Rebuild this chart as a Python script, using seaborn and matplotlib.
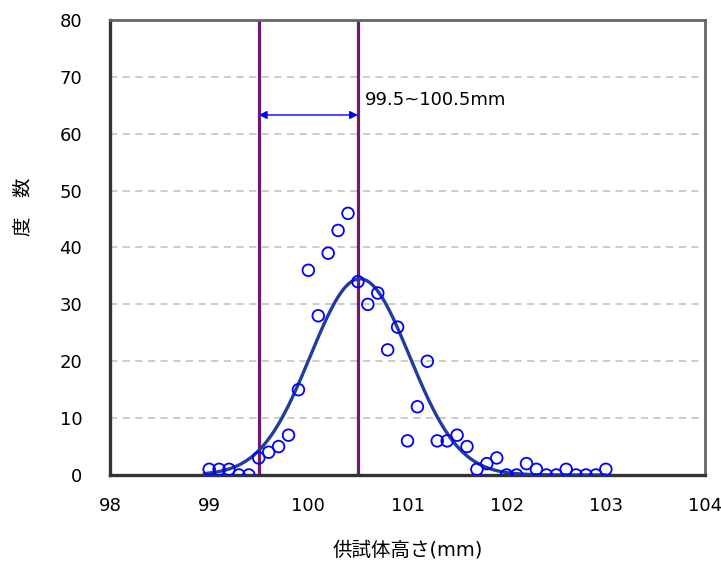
import numpy as np
import pandas as pd
import matplotlib
matplotlib.use("Agg")
import matplotlib.pyplot as plt
import seaborn as sns

# ── data ───────────────────────────────────────────────────────────────────────
height_mm = [99.0, 99.1, 99.2, 99.3, 99.4, 99.5, 99.6, 99.7, 99.8, 99.9,
             100.0, 100.1, 100.2, 100.3, 100.4, 100.5, 100.6, 100.7, 100.8, 100.9,
             101.0, 101.1, 101.2, 101.3, 101.4, 101.5, 101.6, 101.7, 101.8, 101.9,
             102.0, 102.1, 102.2, 102.3, 102.4, 102.5, 102.6, 102.7, 102.8, 102.9,
             103.0]
counts = [1, 1, 1, 0, 0, 3, 4, 5, 7, 15,
          36, 28, 39, 43, 46, 34, 30, 32, 22, 26,
          6, 12, 20, 6, 6, 7, 5, 1, 2, 3,
          0, 0, 2, 1, 0, 0, 1, 0, 0, 0,
          1]

# normal fit shown as the solid curve (parameters)
FIT_MEAN = 100.52
FIT_SD = 0.50
FIT_PEAK = 34.5

range_lo, range_hi = 99.5, 100.5
range_label = "99.5~100.5mm"

x_ticks = [98, 99, 100, 101, 102, 103, 104]
y_ticks = [0, 10, 20, 30, 40, 50, 60, 70, 80]

# ── figure ─────────────────────────────────────────────────────────────────────
sns.set_style("white")
plt.rcParams["font.family"] = ["DejaVu Sans", "Noto Sans CJK JP"]
plt.rcParams["text.color"] = "black"
plt.rcParams["axes.labelcolor"] = "black"
plt.rcParams["xtick.color"] = "black"
plt.rcParams["ytick.color"] = "black"

fig = plt.figure(figsize=(7.21, 5.65), dpi=100)
ax = fig.add_axes([0.1526, 0.1593, 0.8252, 0.8053])

# dashed horizontal grid
for yv in y_ticks[1:-1]:
    ax.axhline(yv, color="#c8c8c8", linestyle=(0, (4, 3)), linewidth=1.3, zorder=0)

df = pd.DataFrame({"x": height_mm, "n": counts})

xs = np.linspace(98.95, 103.0, 400)
curve = pd.DataFrame({
    "x": xs,
    "y": FIT_PEAK * np.exp(-0.5 * ((xs - FIT_MEAN) / FIT_SD) ** 2),
})
sns.lineplot(data=curve, x="x", y="y", color="#1f3c9e", linewidth=2.4, ax=ax, zorder=3)

sns.scatterplot(data=df, x="x", y="n", marker="o", s=70, facecolors="none",
                edgecolor="#0000ff", linewidth=1.3, ax=ax, zorder=4)

# range lines + double arrow
for xv in (range_lo, range_hi):
    ax.axvline(xv, color="#6e1a6e", linewidth=2.3, zorder=2)
ax.annotate("", xy=(range_lo, 63.3), xytext=(range_hi, 63.3),
            arrowprops=dict(arrowstyle="<|-|>", color="#0000ff", lw=1.0,
                            shrinkA=0, shrinkB=0, mutation_scale=12), zorder=5)
ax.text(range_hi + 0.07, 66.0, range_label, fontsize=13, va="center", ha="left")

ax.set_xlim(98, 104)
ax.set_ylim(0, 80)
ax.set_xticks(x_ticks)
ax.set_yticks(y_ticks)
ax.tick_params(axis="x", direction="in", length=5, width=1.2, pad=16, labelsize=13)
ax.tick_params(axis="y", direction="in", length=0, pad=20, labelsize=13)

ax.set_xlabel("供試体高さ(mm)", fontsize=14, labelpad=18)
ax.set_ylabel("度\u3000数", fontsize=14)
ax.yaxis.set_label_coords(-0.13, 0.59)

for side in ("left", "bottom"):
    ax.spines[side].set_color("#333333")
    ax.spines[side].set_linewidth(2.4)
for side in ("top", "right"):
    ax.spines[side].set_color("#666666")
    ax.spines[side].set_linewidth(2.0)

fig.savefig("out.png", dpi=100, facecolor="white")
